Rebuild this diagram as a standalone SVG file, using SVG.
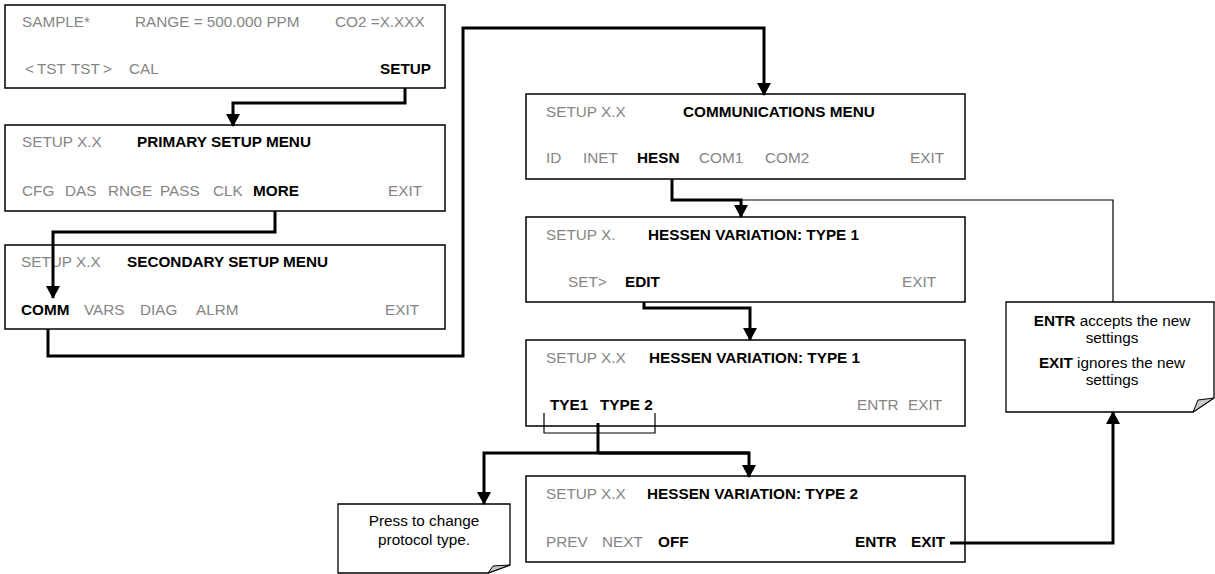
<svg xmlns="http://www.w3.org/2000/svg" width="1215" height="574" viewBox="0 0 1215 574">
<style>
text{font-family:"Liberation Sans",Arial,sans-serif;font-size:15.3px}
.g{fill:#858585}
.b{font-weight:bold;fill:#000}
.box{fill:#fff;stroke:#000;stroke-width:1.5}
.thick{fill:none;stroke:#000;stroke-width:3}
.thin{fill:none;stroke:#000;stroke-width:1.2}
.note{fill:#fff;stroke:#000;stroke-width:1.3}
.fold{fill:#c8c8c8;stroke:#000;stroke-width:1}
.n{text-anchor:middle;fill:#000}
</style>
<defs>
<marker id="ah" markerUnits="userSpaceOnUse" markerWidth="14" markerHeight="14" viewBox="0 0 14 14" refX="12" refY="7" orient="auto">
<path d="M0,0 L13,7 L0,14 Z" fill="#000"/>
</marker>
</defs>

<g id="box-sample">
<rect class="box" x="5" y="5" width="440" height="83"/>
<text class="g" x="22" y="27">SAMPLE*</text>
<text class="g" x="135" y="27">RANGE = 500.000 PPM</text>
<text class="g" x="335" y="27">CO2 =X.XXX</text>
<text class="g" x="25" y="74">&lt;</text>
<text class="g" x="37" y="74">TST</text>
<text class="g" x="71" y="74">TST</text>
<text class="g" x="103" y="74">&gt;</text>
<text class="g" x="129" y="74">CAL</text>
<text class="b" x="380" y="74">SETUP</text>
</g>

<g id="box-primary">
<rect class="box" x="5" y="125" width="440" height="86"/>
<text class="g" x="22" y="147">SETUP X.X</text>
<text class="b" x="137" y="147">PRIMARY SETUP MENU</text>
<text class="g" x="22" y="196">CFG</text>
<text class="g" x="65" y="196">DAS</text>
<text class="g" x="108" y="196">RNGE</text>
<text class="g" x="160" y="196">PASS</text>
<text class="g" x="213" y="196">CLK</text>
<text class="b" x="253" y="196">MORE</text>
<text class="g" x="388" y="196">EXIT</text>
</g>

<g id="box-secondary">
<rect class="box" x="5" y="245" width="440" height="84"/>
<text class="g" x="21" y="267">SETUP X.X</text>
<text class="b" x="127" y="267">SECONDARY SETUP MENU</text>
<text class="b" x="21" y="315">COMM</text>
<text class="g" x="84" y="315">VARS</text>
<text class="g" x="140" y="315">DIAG</text>
<text class="g" x="196" y="315">ALRM</text>
<text class="g" x="385" y="315">EXIT</text>
</g>

<g id="box-comm">
<rect class="box" x="526" y="94" width="439" height="85"/>
<text class="g" x="546" y="117">SETUP X.X</text>
<text class="b" x="683" y="117">COMMUNICATIONS MENU</text>
<text class="g" x="546" y="163">ID</text>
<text class="g" x="583" y="163">INET</text>
<text class="b" x="637" y="163">HESN</text>
<text class="g" x="699" y="163">COM1</text>
<text class="g" x="765" y="163">COM2</text>
<text class="g" x="910" y="163">EXIT</text>
</g>

<g id="box-hessen1">
<rect class="box" x="526" y="217" width="439" height="85"/>
<text class="g" x="546" y="240">SETUP X.</text>
<text class="b" x="648" y="240">HESSEN VARIATION: TYPE 1</text>
<text class="g" x="568" y="287">SET&gt;</text>
<text class="b" x="625" y="287">EDIT</text>
<text class="g" x="902" y="287">EXIT</text>
</g>

<g id="box-hessen1-edit">
<rect class="box" x="526" y="340" width="439" height="86"/>
<text class="g" x="546" y="363">SETUP X.X</text>
<text class="b" x="649" y="363">HESSEN VARIATION: TYPE 1</text>
<text class="b" x="550" y="410">TYE1</text>
<text class="b" x="600" y="410">TYPE 2</text>
<text class="g" x="857" y="410">ENTR</text>
<text class="g" x="908" y="410">EXIT</text>
</g>

<g id="box-hessen2">
<rect class="box" x="526" y="476" width="439" height="86"/>
<text class="g" x="546" y="499">SETUP X.X</text>
<text class="b" x="647" y="499">HESSEN VARIATION: TYPE 2</text>
<text class="g" x="546" y="547">PREV</text>
<text class="g" x="602" y="547">NEXT</text>
<text class="b" x="658" y="547">OFF</text>
<text class="b" x="855" y="547">ENTR</text>
<text class="b" x="911" y="547">EXIT</text>
</g>

<g id="note-entr">
<path class="note" d="M1006,302 H1214 V398 L1193,412 H1006 Z"/>
<path class="fold" d="M1193,412 L1214,398 L1198,400 Z"/>
<text class="n" x="1112" y="326"><tspan font-weight="bold">ENTR</tspan> accepts the new</text>
<text class="n" x="1112" y="343">settings</text>
<text class="n" x="1112" y="368"><tspan font-weight="bold">EXIT</tspan> ignores the new</text>
<text class="n" x="1112" y="385">settings</text>
</g>

<g id="note-press">
<path class="note" d="M338,504 H510 V565 L488,573 H338 Z"/>
<path class="fold" d="M488,573 L510,565 L493,566 Z"/>
<text class="n" x="424" y="526">Press to change</text>
<text class="n" x="424" y="545">protocol type.</text>
</g>

<g id="connectors">
<path class="thick" d="M405,88 V103 H233 V126" marker-end="url(#ah)"/>
<path class="thick" d="M275,211 V232 H53 V298" marker-end="url(#ah)"/>
<path class="thick" d="M48,329 V356 H463 V28 H764 V95" marker-end="url(#ah)"/>
<path class="thick" d="M672,179 V200 H741 V217" marker-end="url(#ah)"/>
<path class="thin" d="M741,200 H1113 V302"/>
<path class="thick" d="M644,302 V308 H750 V340" marker-end="url(#ah)"/>
<path class="thin" d="M544,413 V433 H655 V413"/>
<path class="thick" d="M598,423 V453"/>
<path class="thick" d="M749,453 H484 V504" marker-end="url(#ah)"/>
<path class="thick" d="M598,453 H749 V477" marker-end="url(#ah)"/>
<path class="thick" d="M950,543 H1113 V412" marker-end="url(#ah)"/>
</g>
</svg>
